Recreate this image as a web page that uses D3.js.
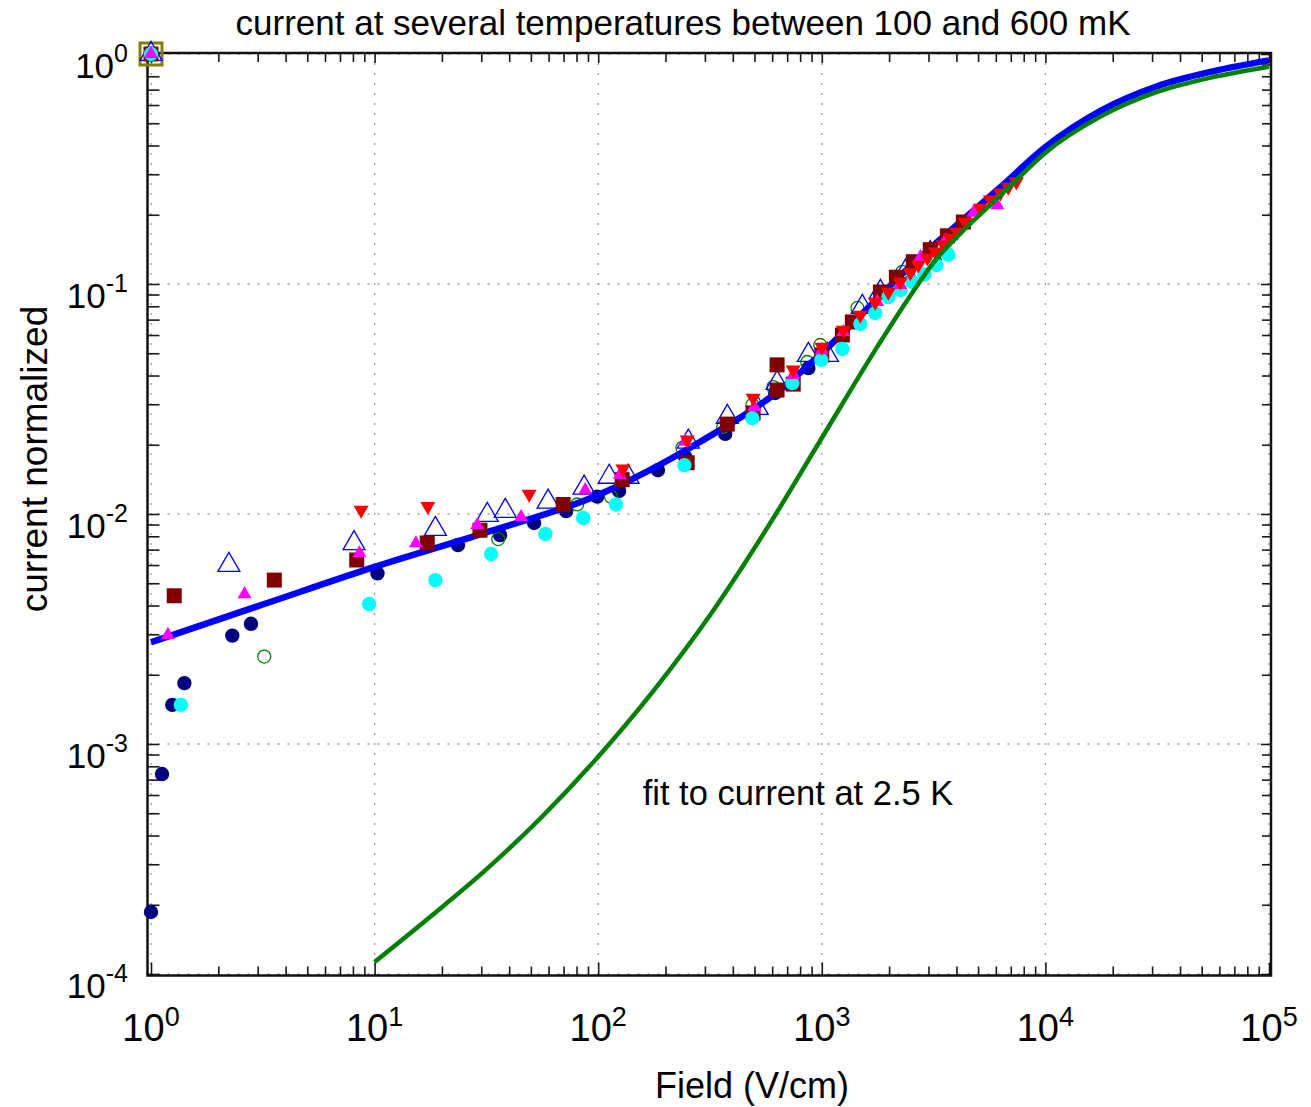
<!DOCTYPE html>
<html>
<head>
<meta charset="utf-8">
<script src="https://cdn.jsdelivr.net/npm/d3@7"></script>
<style>
    body { margin: 0; background: #fff; }
    svg { display: block; font-family: Arial, "Liberation Sans", sans-serif; }
</style>
</head>
<body>
<svg width="1311" height="1107"></svg>
<script>
// Fit curves, [field V/cm, normalized current]
const fitLowT = [
    [1, 0.00277], [3.16, 0.00404], [10, 0.00589], [31.6, 0.00832], [100, 0.0121],
    [286, 0.0206], [673, 0.0356], [1000, 0.0501], [2570, 0.123], [6310, 0.264],
    [10000, 0.394], [17800, 0.569], [31600, 0.724], [56200, 0.841], [100000, 0.938]
];
const fit25K = [
    [10, 1.127e-4], [17.8, 1.778e-4], [31.6, 2.85e-4], [56.2, 4.84e-4], [100, 8.81e-4],
    [178, 0.00172], [316, 0.00363], [562, 0.00851], [1000, 0.0214], [1778, 0.0537],
    [2570, 0.0933], [3160, 0.124], [4170, 0.166], [5620, 0.219], [7190, 0.275],
    [10000, 0.372], [17800, 0.537], [31600, 0.684], [56200, 0.794], [100000, 0.881]
];

// Measured points, one array per temperature
const olivePoints = [[1, 1]];
const navyPoints = [
    [1, 1], [1, 1.86e-4], [1.12, 7.4e-4], [1.245, 1.48e-3], [1.41, 1.84e-3], [2.31, 2.96e-3],
    [2.80, 3.33e-3], [10.3, 5.52e-3], [23.6, 7.33e-3], [36.4, 8.1e-3], [51.7, 9.14e-3],
    [71.9, 0.0103], [99, 0.0119], [124, 0.0126], [185, 0.0155], [245, 0.0177],
    [370, 0.0223], [619, 0.0336], [871, 0.0431]
];
const greenPoints = [
    [1, 1], [3.21, 2.4e-3], [35.7, 7.78e-3], [80.5, 0.0110], [114, 0.0119], [238, 0.0194],
    [362, 0.0239], [489, 0.0298], [607, 0.0356], [861, 0.0458], [984, 0.0543],
    [1236, 0.0612], [1443, 0.0787], [2291, 0.113]
];
const blueOpenPoints = [
    [1, 1], [2.23, 6.0e-3], [8.09, 7.46e-3], [18.7, 8.6e-3], [31.9, 9.9e-3], [38.4, 0.0103],
    [59.7, 0.0113], [86.5, 0.0130], [112, 0.0145], [136, 0.0145], [253, 0.0206],
    [378, 0.0264], [514, 0.0289], [631, 0.0371], [871, 0.0491], [1059, 0.0491],
    [1518, 0.0794], [1828, 0.0923], [2366, 0.113], [3055, 0.136]
];
const darkRedPoints = [
    [1, 1], [1.27, 4.41e-3], [3.56, 5.16e-3], [8.32, 6.31e-3], [17.2, 7.48e-3], [29.6, 8.5e-3],
    [69.7, 0.0110], [128, 0.0141], [250, 0.0167], [378, 0.0246], [493, 0.0275],
    [631, 0.0346], [631, 0.0445], [745, 0.0367], [1000, 0.0491], [1236, 0.0600],
    [1370, 0.0684], [1828, 0.0923], [2155, 0.107], [2566, 0.125], [3055, 0.141],
    [3645, 0.162], [4296, 0.186]
];
const cyanPoints = [
    [1, 1], [1.36, 1.48e-3], [9.45, 4.06e-3], [18.7, 5.16e-3], [33.2, 6.7e-3], [58, 8.19e-3],
    [85.7, 9.61e-3], [120, 0.0110], [243, 0.0163], [489, 0.0261], [738, 0.0371],
    [995, 0.0468], [1236, 0.0522], [1487, 0.0670], [1734, 0.0748], [1985, 0.0877],
    [2244, 0.0942], [2541, 0.102], [2875, 0.110], [3251, 0.121], [3681, 0.134]
];
const magentaPoints = [
    [1, 1], [1.19, 2.98e-3], [2.62, 4.48e-3], [8.55, 6.75e-3], [15.3, 7.46e-3], [28.8, 8.96e-3],
    [45.2, 9.7e-3], [87.5, 0.0127], [125, 0.0148], [245, 0.0206], [499, 0.0292],
    [745, 0.0402], [1000, 0.0516], [1248, 0.0618], [1771, 0.0835], [2244, 0.099],
    [2760, 0.131], [3570, 0.155], [4764, 0.204], [6097, 0.220]
];
const redPoints = [
    [8.7, 0.0104], [17.3, 0.0108], [49.1, 0.0122], [129, 0.0157], [250, 0.0210],
    [493, 0.0319], [745, 0.0423], [1000, 0.0532], [1248, 0.0631], [1487, 0.0733],
    [1734, 0.0835], [1985, 0.0923], [2244, 0.102], [2489, 0.112], [2704, 0.121],
    [2966, 0.130], [3221, 0.138], [3499, 0.148], [3758, 0.158], [4036, 0.168],
    [4385, 0.186], [5117, 0.214], [5675, 0.232], [6295, 0.249], [6823, 0.264], [7413, 0.278]
];

const xDecades = [0, 1, 2, 3, 4, 5];
const yDecades = [-4, -3, -2, -1, 0];

const svg = d3.select('svg');

const x = d3.scaleLog().domain([1, 1e5]).range([151, 1269]);
const y = d3.scaleLog().domain([1e-4, 1]).range([974, 54]);

const frame = {left: 147.5, right: 1271, top: 53, bottom: 975.5};

// minor + major tick values
function logTicks(lo, hi)
{
    const t = [];
    for (let e = lo; e < hi; e++)
        for (let m = 1; m < 10; m++)
            t.push(m * Math.pow(10, e));
    t.push(Math.pow(10, hi));
    return t;
}
const isMajor = v => Math.abs(Math.log10(v) - Math.round(Math.log10(v))) < 1e-9;

// Grid
const grid = svg.append('g')
    .attr('stroke', '#9a9a9a')
    .attr('stroke-width', 1.3)
    .attr('stroke-dasharray', '2,8');

grid.selectAll('.gx')
    .data(xDecades)
    .enter().append('line')
    .attr('x1', d => x(Math.pow(10, d))).attr('x2', d => x(Math.pow(10, d)))
    .attr('y1', frame.top).attr('y2', frame.bottom);

grid.selectAll('.gy')
    .data(yDecades)
    .enter().append('line')
    .attr('y1', d => y(Math.pow(10, d))).attr('y2', d => y(Math.pow(10, d)))
    .attr('x1', frame.left).attr('x2', frame.right);

// Axes ticks (inside the box)
function styleTicks(g, majorLen, minorLen, sign, horizontal)
{
    g.select('.domain').remove();
    g.selectAll('.tick text').remove();
    g.selectAll('.tick line')
        .attr('stroke', '#1a1a1a')
        .attr('stroke-width', 1.6)
        .each(function(d)
        {
            const len = sign * (isMajor(d) ? majorLen : minorLen);
            d3.select(this).attr(horizontal ? 'y2' : 'x2', len);
        });
}

const xt = logTicks(0, 5);
const yt = logTicks(-4, 0);

svg.append('g')
    .attr('transform', `translate(0,${frame.bottom})`)
    .call(d3.axisBottom(x).tickValues(xt))
    .call(g => styleTicks(g, 13, 9, -1, true));

svg.append('g')
    .attr('transform', `translate(0,${frame.top})`)
    .call(d3.axisTop(x).tickValues(xt))
    .call(g => styleTicks(g, 10, 9, 1, true));

svg.append('g')
    .attr('transform', `translate(${frame.left},0)`)
    .call(d3.axisLeft(y).tickValues(yt))
    .call(g => styleTicks(g, 12, 12, 1, false));

svg.append('g')
    .attr('transform', `translate(${frame.right},0)`)
    .call(d3.axisRight(y).tickValues(yt))
    .call(g => styleTicks(g, 10, 9, -1, false));

// Box
svg.append('rect')
    .attr('x', frame.left).attr('y', frame.top)
    .attr('width', frame.right - frame.left)
    .attr('height', frame.bottom - frame.top)
    .attr('fill', 'none')
    .attr('stroke', '#111')
    .attr('stroke-width', 2.5);

// Tick labels with superscript exponents
const xLab = svg.append('g').attr('fill', '#000');
xDecades.forEach(function(e)
{
    const t = xLab.append('text')
        .attr('x', x(Math.pow(10, e)))
        .attr('y', 1041)
        .attr('text-anchor', 'middle')
        .style('font-size', '38px');
    t.append('tspan').text('10');
    t.append('tspan').attr('dy', -15).style('font-size', '27px').text(e);
});

const yLab = svg.append('g').attr('fill', '#000');
yDecades.forEach(function(e)
{
    const t = yLab.append('text')
        .attr('x', 128)
        .attr('y', y(Math.pow(10, e)) + 24)
        .attr('text-anchor', 'end')
        .style('font-size', '35px');
    t.append('tspan').text('10');
    t.append('tspan').attr('dy', -16).style('font-size', '25px').text(e);
});

// Fit lines
const line = d3.line()
    .x(d => x(d[0]))
    .y(d => y(d[1]))
    .curve(d3.curveMonotoneX);

function drawMarkers(points, shape, size, fill, stroke, strokeWidth, rotate)
{
    svg.append('g')
        .selectAll('path')
        .data(points)
        .enter().append('path')
        .attr('d', d3.symbol().type(shape).size(size))
        .attr('transform', d => `translate(${x(d[0])},${y(d[1])})` + (rotate ? ' rotate(180)' : ''))
        .attr('fill', fill)
        .attr('stroke', stroke)
        .attr('stroke-width', strokeWidth);
}

const triArea = w => Math.sqrt(3) / 4 * w * w;

drawMarkers(olivePoints, d3.symbolSquare, 22 * 22, 'none', '#808000', 3);
drawMarkers(navyPoints, d3.symbolCircle, Math.PI * 52, '#000080', 'none', 0);
drawMarkers(greenPoints, d3.symbolCircle, Math.PI * 42, 'none', '#008000', 1.3);

svg.append('path')
    .datum(fitLowT)
    .attr('d', line)
    .attr('fill', 'none')
    .attr('stroke', '#0000ff')
    .attr('stroke-width', 6.5);

drawMarkers(blueOpenPoints, d3.symbolTriangle, triArea(22), 'none', '#0000ff', 1.3);
drawMarkers(darkRedPoints, d3.symbolSquare, 15 * 15, '#800000', 'none', 0);
drawMarkers(cyanPoints, d3.symbolCircle, Math.PI * 52, '#00ffff', 'none', 0);
drawMarkers(magentaPoints, d3.symbolTriangle, triArea(14), '#ff00ff', 'none', 0);
drawMarkers(redPoints, d3.symbolTriangle, triArea(15), '#ff0000', 'none', 0, true);

svg.append('path')
    .datum(fit25K)
    .attr('d', line)
    .attr('fill', 'none')
    .attr('stroke', '#008000')
    .attr('stroke-width', 4.5);

// Texts
svg.append('text')
    .attr('x', 683).attr('y', 35)
    .attr('text-anchor', 'middle')
    .style('font-size', '35px')
    .text('current at several temperatures between 100 and 600 mK');

svg.append('text')
    .attr('x', 798).attr('y', 805)
    .attr('text-anchor', 'middle')
    .style('font-size', '34.5px')
    .text('fit to current at 2.5 K');

svg.append('text')
    .attr('x', 752).attr('y', 1098)
    .attr('text-anchor', 'middle')
    .style('font-size', '36px')
    .text('Field (V/cm)');

svg.append('text')
    .attr('transform', 'translate(47,459) rotate(-90)')
    .attr('text-anchor', 'middle')
    .style('font-size', '37px')
    .text('current  normalized');
</script>
</body>
</html>
